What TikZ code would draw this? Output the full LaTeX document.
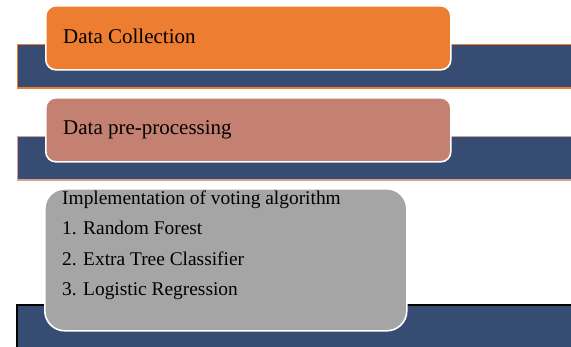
\documentclass[tikz,border=0pt]{standalone}
\usepackage{fontspec}
\setmainfont{Liberation Serif}
\definecolor{navy}{RGB}{55,76,114}
\definecolor{orangeA}{RGB}{237,125,49}
\definecolor{salmon}{RGB}{196,128,112}
\definecolor{salmonline}{RGB}{214,160,146}
\definecolor{greyA}{RGB}{165,165,165}
\begin{document}
\begin{tikzpicture}[x=1pt,y=-1pt,
  bar/.style={draw=#1, line width=1.6pt, fill=navy, rectangle, anchor=north west, inner sep=0pt},
  card/.style={draw=white, line width=1.6pt, fill=#1, rectangle, anchor=north west, inner sep=0pt},
  lbl/.style={anchor=base west, inner sep=0pt, font=\fontsize{21}{25}\selectfont},
  lst/.style={anchor=base west, inner sep=0pt, font=\fontsize{19.4}{23}\selectfont}]
\useasboundingbox (0,0) rectangle (571,346);
\clip (0,0) rectangle (571,346);
% bars
\node[bar=orangeA, minimum width=570pt, minimum height=43.5pt] (bar1) at (16.5,43.5) {};
\node[bar=salmonline, minimum width=570pt, minimum height=43.5pt] (bar2) at (16.5,135.5) {};
\node[bar=black, minimum width=570pt, minimum height=50pt] (bar3) at (16,304) {};
% cards
\node[card=orangeA, rounded corners=10pt, minimum width=405pt, minimum height=64pt] (c1) at (45,5) {};
\node[card=salmon, rounded corners=10pt, minimum width=405pt, minimum height=64pt] (c2) at (45,97) {};
\node[card=greyA, rounded corners=20pt, minimum width=362pt, minimum height=142pt] (c3) at (44,188) {};
% labels
\node[lbl] (t1) at (63,43) {Data Collection};
\node[lbl] (t2) at (63,134.5) {Data pre-processing};
\node[lst] (l0) at (62,204) {Implementation of voting algorithm};
\node[lst] (l1) at (62,234.5) {1. Random Forest};
\node[lst] (l2) at (62,265) {2. Extra Tree Classifier};
\node[lst] (l3) at (62,295.5) {3. Logistic Regression};
\end{tikzpicture}
\end{document}
